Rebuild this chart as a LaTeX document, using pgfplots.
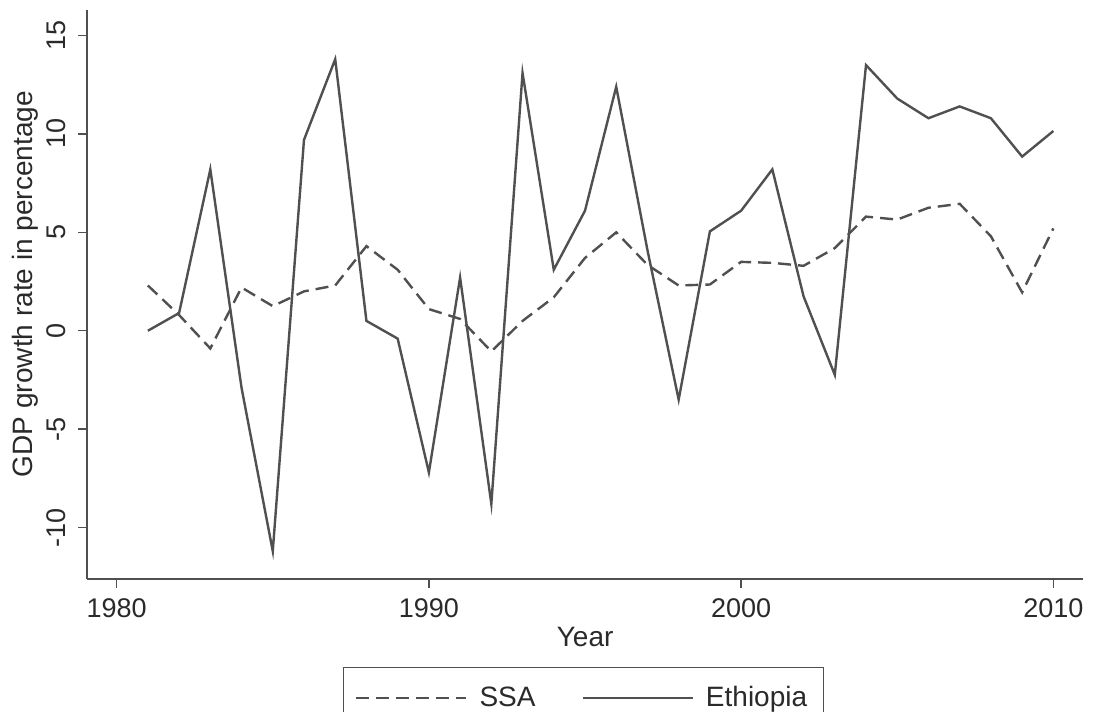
\documentclass[border=0pt]{standalone}
\usepackage{pgfplots}
\pgfplotsset{compat=1.18}
\usepackage{fontspec}
\setmainfont{Liberation Sans}
\definecolor{ln}{HTML}{505050}
\definecolor{tx}{HTML}{2A2A2A}
\pgfplotstableread{
year ssa eth
1981 2.3 0.0
1982 0.8 0.9
1983 -0.9 8.2
1984 2.2 -2.9
1985 1.25 -11.2
1986 2.0 9.7
1987 2.3 13.8
1988 4.3 0.5
1989 3.1 -0.4
1990 1.1 -7.2
1991 0.6 2.7
1992 -1.05 -8.8
1993 0.5 13.1
1994 1.7 3.1
1995 3.7 6.1
1996 5.0 12.4
1997 3.35 4.1
1998 2.3 -3.5
1999 2.35 5.05
2000 3.5 6.1
2001 3.45 8.2
2002 3.3 1.75
2003 4.2 -2.24
2004 5.8 13.5
2005 5.65 11.8
2006 6.25 10.8
2007 6.45 11.4
2008 4.8 10.8
2009 1.95 8.85
2010 5.2 10.15
}\gdp
\begin{document}
\begin{tikzpicture}
\begin{axis}[
  scale only axis, width=497.85pt, height=284.35pt,
  at={(0,0)}, anchor=south west,
  xmin=1979.06, xmax=2010.95, ymin=-12.6, ymax=16.3,
  axis x line=bottom, axis y line=left,
  axis line style={-, draw=ln, line width=0.8pt},
  xtick={1980,1990,2000,2010}, ytick={-10,-5,0,5,10,15},
  tick align=outside, major tick length=4.5pt,
  tick style={draw=ln, line width=0.7pt},
  /pgf/number format/set thousands separator={},
  /pgf/number format/assume math mode=true,
  ticklabel style={font=\fontsize{13.5}{16}\selectfont, text=tx},
  yticklabel style={rotate=90, anchor=south},
  yticklabel shift=2.5pt, xticklabel shift=2pt,
  xlabel={Year}, ylabel={GDP growth rate in percentage},
  label style={font=\fontsize{14}{16}\selectfont, text=tx},
  xlabel style={at={(axis description cs:0.5,-0.102)}, anchor=center},
  ylabel style={at={(axis description cs:-0.0626,0.518)}, anchor=center},
  legend columns=2,
  legend style={at={(axis description cs:0.498,-0.155)}, anchor=north,
    draw=ln, line width=0.6pt, font=\fontsize{14}{16}\selectfont, text=tx,
    /tikz/every even column/.append style={column sep=21pt},
    /tikz/every odd column/.append style={column sep=4pt},
    inner xsep=6pt, inner ysep=7.5pt},
  legend image code/.code={\draw[#1] (0pt,0pt) -- (55pt,0pt);},
]
\addplot[ln, line width=1.2pt, dash pattern=on 6.5pt off 3.5pt] table[x=year,y=ssa] {\gdp};
\addlegendentry{SSA}
\addplot[ln, line width=1.2pt] table[x=year,y=eth] {\gdp};
\addlegendentry{Ethiopia}
\end{axis}
\pgfresetboundingbox
\path (-43.65pt,-66.65pt) rectangle (502.85pt,289.35pt);
\end{tikzpicture}
\end{document}
